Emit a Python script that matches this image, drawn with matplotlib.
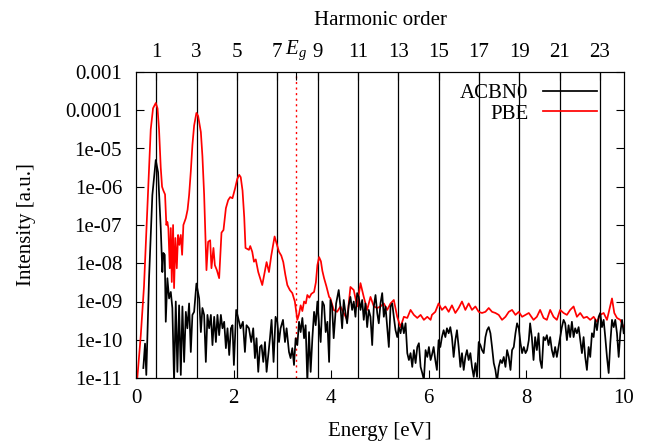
import numpy as np
import matplotlib.pyplot as plt
from matplotlib.ticker import FixedLocator, LogLocator, NullFormatter

plt.rcParams['font.family'] = ['Liberation Serif', 'DejaVu Serif']
plt.rcParams['mathtext.fontset'] = 'custom'
plt.rcParams['mathtext.rm'] = 'Liberation Serif'
plt.rcParams['mathtext.it'] = 'Liberation Serif:italic'
plt.rcParams['font.size'] = 15

# driving photon energy (3 um) and band gap, both in eV
omega = 0.4133
e_gap = 3.27
orders = [1, 3, 5, 7, 9, 11, 13, 15, 17, 19, 21, 23]

# HHG spectra: energy [eV] and log10 of the intensity [a.u.]
acbn0_energy = [
    0.150, 0.185, 0.211, 0.267, 0.335, 0.405, 0.452, 0.507, 0.540, 0.561,
    0.589, 0.610, 0.643, 0.678, 0.713, 0.745, 0.780, 0.815, 0.848, 0.883,
    0.918, 0.951, 0.986, 1.021, 1.053, 1.088, 1.123, 1.156, 1.191, 1.238,
    1.294, 1.329, 1.361, 1.396, 1.431, 1.464, 1.499, 1.534, 1.567, 1.602,
    1.637, 1.669, 1.704, 1.739, 1.772, 1.807, 1.842, 1.875, 1.910, 1.945,
    1.977, 2.006, 2.053, 2.094, 2.142, 2.191, 2.232, 2.265, 2.314, 2.361,
    2.402, 2.437, 2.470, 2.505, 2.540, 2.573, 2.608, 2.643, 2.676, 2.710,
    2.745, 2.778, 2.819, 2.860, 2.895, 2.930, 2.963, 3.012, 3.053, 3.086,
    3.135, 3.168, 3.203, 3.238, 3.271, 3.306, 3.341, 3.374, 3.409, 3.444,
    3.476, 3.511, 3.546, 3.579, 3.614, 3.649, 3.682, 3.717, 3.752, 3.784,
    3.819, 3.854, 3.887, 3.922, 3.957, 3.984, 4.018, 4.051, 4.101, 4.154,
    4.189, 4.224, 4.257, 4.292, 4.326, 4.359, 4.394, 4.429, 4.462, 4.497,
    4.532, 4.565, 4.600, 4.635, 4.667, 4.702, 4.737, 4.770, 4.805, 4.840,
    4.873, 4.908, 4.943, 4.975, 5.010, 5.045, 5.078, 5.113, 5.148, 5.181,
    5.216, 5.251, 5.283, 5.318, 5.353, 5.386, 5.421, 5.456, 5.489, 5.524,
    5.559, 5.592, 5.626, 5.661, 5.694, 5.729, 5.764, 5.797, 5.832, 5.866,
    5.899, 5.934, 5.969, 6.002, 6.037, 6.064, 6.099, 6.133, 6.166, 6.201,
    6.236, 6.269, 6.304, 6.339, 6.372, 6.407, 6.441, 6.474, 6.509, 6.544,
    6.577, 6.612, 6.647, 6.680, 6.715, 6.749, 6.782, 6.817, 6.852, 6.885,
    6.920, 6.955, 6.988, 7.023, 7.058, 7.090, 7.125, 7.160, 7.193, 7.228,
    7.263, 7.296, 7.331, 7.365, 7.398, 7.433, 7.468, 7.501, 7.536, 7.571,
    7.604, 7.639, 7.674, 7.706, 7.741, 7.776, 7.809, 7.844, 7.879, 7.912,
    7.947, 7.982, 8.014, 8.049, 8.076, 8.111, 8.146, 8.179, 8.214, 8.249,
    8.281, 8.316, 8.351, 8.384, 8.419, 8.454, 8.487, 8.522, 8.556, 8.589,
    8.624, 8.659, 8.692, 8.727, 8.762, 8.795, 8.830, 8.864, 8.897, 8.932,
    8.967, 9.000, 9.035, 9.070, 9.103, 9.138, 9.172, 9.205, 9.240, 9.275,
    9.308, 9.343, 9.378, 9.411, 9.446, 9.481, 9.513, 9.548, 9.583, 9.616,
    9.651, 9.686, 9.719, 9.754, 9.789, 9.821, 9.856, 9.891, 9.924, 9.959,
    9.994,
]
acbn0_log = [
    -10.74, -10.10, -10.92, -8.40, -6.22, -5.30, -5.62, -7.08, -8.23, -7.73,
    -7.78, -9.53, -8.39, -8.92, -8.75, -9.17, -11.10, -9.00, -10.84, -9.10,
    -10.92, -9.13, -10.58, -9.27, -9.70, -9.05, -10.32, -9.35, -9.27, -8.53,
    -8.92, -9.80, -9.17, -9.35, -10.58, -9.35, -9.70, -9.35, -10.14, -9.40,
    -10.06, -9.35, -9.88, -9.35, -9.70, -9.53, -10.22, -9.70, -10.40, -9.70,
    -9.62, -10.66, -9.22, -9.43, -9.70, -9.53, -10.32, -9.62, -9.70, -10.06,
    -9.70, -10.48, -9.96, -10.84, -10.19, -10.14, -10.58, -10.06, -10.84, -10.40,
    -9.96, -9.48, -10.58, -9.40, -9.53, -10.06, -9.70, -9.48, -10.06, -9.70,
    -10.32, -10.48, -10.22, -10.66, -9.96, -10.14, -9.53, -9.80, -9.43, -9.96,
    -9.62, -11.10, -9.80, -10.84, -9.96, -9.27, -9.62, -9.00, -9.62, -10.06,
    -9.00, -9.10, -9.80, -9.53, -10.58, -8.96, -9.13, -9.96, -9.05, -8.70,
    -9.13, -9.70, -8.96, -9.30, -9.57, -9.10, -8.88, -9.22, -9.00, -9.40,
    -8.78, -8.88, -9.22, -8.96, -9.48, -9.05, -9.67, -9.22, -9.40, -10.14,
    -9.13, -8.83, -9.30, -9.57, -9.05, -8.78, -9.40, -9.13, -9.67, -10.19,
    -9.13, -9.05, -9.40, -9.75, -9.93, -9.67, -9.83, -9.57, -9.83, -9.57,
    -10.35, -10.53, -10.35, -10.71, -10.27, -10.61, -10.19, -10.09, -10.71, -10.87,
    -11.05, -10.27, -10.45, -10.19, -10.53, -10.40, -10.19, -10.53, -10.79, -10.01,
    -10.19, -9.93, -9.75, -9.93, -9.70, -9.83, -9.67, -9.93, -10.45, -10.01,
    -9.75, -10.19, -10.71, -10.35, -10.79, -10.45, -10.27, -10.53, -10.35, -10.71,
    -10.97, -10.61, -10.97, -10.06, -10.14, -10.27, -10.35, -9.93, -9.75, -9.67,
    -9.83, -10.19, -10.61, -10.79, -11.10, -10.71, -10.53, -10.61, -10.45, -10.71,
    -10.27, -10.45, -10.79, -10.27, -10.19, -9.83, -9.57, -9.70, -10.09, -10.35,
    -10.19, -10.35, -10.27, -10.01, -9.57, -9.93, -10.53, -9.93, -10.27, -9.83,
    -10.53, -10.74, -9.93, -10.01, -9.88, -10.14, -9.93, -10.27, -10.45, -10.19,
    -10.45, -10.19, -9.93, -9.67, -9.48, -9.57, -10.01, -9.62, -9.93, -9.53,
    -9.93, -9.70, -9.83, -9.67, -10.01, -10.35, -9.93, -10.45, -10.79, -10.19,
    -10.45, -9.83, -9.93, -9.48, -9.75, -9.40, -9.30, -9.67, -9.48, -9.93,
    -10.45, -10.87, -10.09, -9.48, -9.67, -9.48, -9.83, -10.45, -9.83, -9.48,
    -9.83,
]

pbe_energy = [
    0.027, 0.097, 0.164, 0.232, 0.302, 0.349, 0.405, 0.441, 0.472, 0.507,
    0.534, 0.561, 0.595, 0.622, 0.643, 0.663, 0.692, 0.713, 0.733, 0.760,
    0.780, 0.807, 0.836, 0.862, 0.889, 0.918, 0.945, 0.971, 1.021, 1.057,
    1.088, 1.123, 1.156, 1.191, 1.238, 1.273, 1.329, 1.361, 1.396, 1.444,
    1.478, 1.520, 1.546, 1.587, 1.616, 1.657, 1.704, 1.752, 1.793, 1.842,
    1.889, 1.930, 1.977, 2.033, 2.074, 2.115, 2.146, 2.183, 2.218, 2.244,
    2.314, 2.341, 2.382, 2.417, 2.454, 2.505, 2.546, 2.587, 2.628, 2.676,
    2.725, 2.772, 2.840, 2.885, 2.930, 2.977, 3.018, 3.060, 3.101, 3.152,
    3.203, 3.255, 3.306, 3.337, 3.374, 3.409, 3.444, 3.480, 3.511, 3.552,
    3.593, 3.649, 3.686, 3.717, 3.752, 3.789, 3.819, 3.854, 3.901, 3.957,
    3.984, 4.051, 4.121, 4.189, 4.257, 4.326, 4.394, 4.462, 4.532, 4.600,
    4.667, 4.737, 4.805, 4.873, 4.943, 5.010, 5.078, 5.148, 5.216, 5.283,
    5.353, 5.421, 5.489, 5.559, 5.626, 5.694, 5.764, 5.832, 5.899, 5.969,
    6.037, 6.064, 6.133, 6.201, 6.269, 6.339, 6.407, 6.474, 6.544, 6.612,
    6.680, 6.749, 6.817, 6.885, 6.955, 7.023, 7.090, 7.160, 7.228, 7.296,
    7.365, 7.433, 7.501, 7.571, 7.639, 7.706, 7.776, 7.844, 7.912, 7.982,
    8.049, 8.076, 8.146, 8.214, 8.281, 8.351, 8.419, 8.487, 8.556, 8.624,
    8.692, 8.762, 8.830, 8.897, 8.967, 9.035, 9.103, 9.172, 9.240, 9.308,
    9.378, 9.446, 9.513, 9.583, 9.651, 9.754, 9.801, 9.856, 9.924, 9.994,
]
pbe_log = [
    -11.00, -9.90, -8.60, -6.60, -4.50, -3.95, -3.81, -3.95, -4.50, -5.50,
    -6.00, -6.10, -6.20, -7.00, -6.92, -7.08, -8.13, -7.08, -8.49, -7.00,
    -8.65, -7.34, -8.13, -7.26, -7.52, -7.26, -7.78, -7.00, -6.82, -6.60,
    -6.22, -5.60, -4.91, -4.40, -4.07, -4.15, -4.57, -5.20, -6.20, -8.18,
    -7.44, -7.40, -8.13, -7.60, -8.05, -8.18, -8.39, -7.20, -7.13, -6.56,
    -6.35, -6.27, -6.30, -6.03, -5.80, -5.69, -5.75, -6.10, -6.80, -7.60,
    -7.65, -7.55, -7.70, -7.96, -7.90, -8.23, -8.40, -8.57, -8.30, -7.97,
    -8.23, -7.80, -7.30, -7.50, -7.70, -7.80, -7.97, -8.30, -8.57, -8.70,
    -8.78, -9.00, -9.48, -9.35, -9.10, -9.25, -9.00, -9.05, -8.83, -8.90,
    -8.80, -8.75, -8.50, -8.05, -7.84, -7.95, -8.20, -8.39, -8.60, -8.88,
    -8.92, -9.22, -9.27, -9.13, -9.30, -9.48, -8.62, -8.70, -9.13, -8.52,
    -8.88, -9.22, -8.88, -9.13, -9.17, -9.13, -9.05, -9.22, -9.05, -8.96,
    -9.40, -9.67, -9.40, -9.43, -9.22, -9.35, -9.43, -9.35, -9.48, -9.40,
    -9.48, -9.35, -9.27, -9.05, -9.22, -9.13, -9.27, -9.10, -9.30, -9.17,
    -9.00, -9.22, -9.05, -9.22, -9.13, -9.27, -9.30, -9.27, -9.17, -9.27,
    -9.30, -9.35, -9.48, -9.40, -9.27, -9.22, -9.35, -9.27, -9.40, -9.35,
    -9.30, -9.35, -9.48, -9.40, -9.22, -9.43, -9.48, -9.22, -9.40, -9.48,
    -9.22, -9.30, -9.35, -9.22, -9.13, -9.40, -9.30, -9.43, -9.40, -9.48,
    -9.40, -9.53, -9.35, -9.30, -9.48, -8.92, -9.30, -9.43, -9.48, -9.67,
]

y_ticks = [1e-11, 1e-10, 1e-9, 1e-8, 1e-7, 1e-6, 1e-5, 1e-4, 1e-3]
y_labels = ['1e-11', '1e-10', '1e-09', '1e-08', '1e-07', '1e-06', '1e-05',
            '0.0001', '0.001']

fig = plt.figure(figsize=(6.47, 4.43), dpi=100)
ax = fig.add_axes([136 / 647, 65 / 443, 488 / 647, 306 / 443])

# harmonic markers and band gap
for n in orders:
    ax.axvline(n * omega, color='black', lw=0.9, zorder=1)
ax.axvline(e_gap, color='red', lw=1.0, ls=(0, (1.5, 2.5)), zorder=1)

ax.plot(acbn0_energy, 10.0 ** np.array(acbn0_log), color='black', lw=1.25,
        label='ACBN0', zorder=3)
ax.plot(pbe_energy, 10.0 ** np.array(pbe_log), color='red', lw=1.25,
        label='PBE', zorder=2)

ax.set_yscale('log')
ax.set_xlim(0, 10)
ax.set_ylim(1e-11, 1e-3)
ax.yaxis.set_major_locator(FixedLocator(y_ticks))
ax.set_yticklabels(y_labels)
ax.yaxis.set_minor_locator(LogLocator(base=10, subs=np.arange(2, 10)))
ax.yaxis.set_minor_formatter(NullFormatter())
ax.set_xticks([0, 2, 4, 6, 8, 10])
ax.tick_params(which='major', direction='in', length=6, width=0.8,
               right=True, top=False)
ax.tick_params(axis='y', which='major', pad=10)
ax.tick_params(axis='x', which='major', pad=8)
ax.tick_params(which='minor', direction='in', length=3, width=0.6, right=True)
ax.set_xlabel('Energy [eV]', labelpad=10)
ax.set_ylabel('Intensity [a.u.]', labelpad=21)

ax2 = ax.twiny()
ax2.set_xlim(0, 10)
top_pos = [n * omega for n in orders] + [e_gap]
top_lab = [str(n) for n in orders] + [r'$E_g$']
ax2.set_xticks(top_pos)
ax2.set_xticklabels(top_lab)
ax2.tick_params(direction='in', length=6, width=0.8, pad=7)
ax2.get_xticklines()[-2].set_color('red')
ax2.set_xlabel('Harmonic order', labelpad=10)

ax.legend(loc='upper right', bbox_to_anchor=(0.962, 0.99), frameon=False,
          markerfirst=False, handlelength=2.6, handletextpad=0.7,
          labelspacing=0.05, borderaxespad=0)

fig.savefig('out.png', dpi=100)
